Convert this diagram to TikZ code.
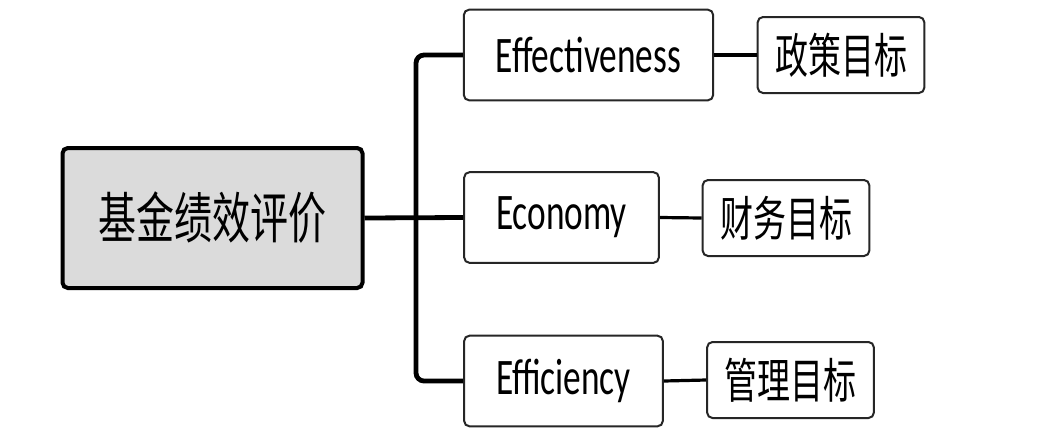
\documentclass[tikz,border=0pt]{standalone}
\usepackage{fontspec}
\setmainfont{Carlito}
\newfontfamily\cjk{Noto Sans CJK SC}
\usepackage{graphicx}
\newcommand{\vst}[1]{\scalebox{1}[1.45]{#1}}
\begin{document}
\begin{tikzpicture}[x=0.75pt,y=-0.75pt,
  mainbox/.style={draw=black,line width=3pt,fill=black!14,rounded corners=4pt,
    minimum width=225pt,minimum height=105pt,inner sep=0pt,
    font=\fontsize{28.5}{30}\cjk},
  midbox/.style={draw=black!85,line width=1.5pt,fill=white,rounded corners=4pt,
    minimum height=68pt,inner sep=0pt,font=\fontsize{26.5}{28}\selectfont},
  goalbox/.style={draw=black!85,line width=1.5pt,fill=white,rounded corners=4pt,
    minimum width=125pt,minimum height=57pt,inner sep=0pt,
    font=\fontsize{24.75}{26}\cjk},
  trunk/.style={line width=3.6pt,rounded corners=6pt},
  twig/.style={line width=2.4pt}]
\fill[white] (0,0) rectangle (1050,440);
\useasboundingbox (0,0) rectangle (1050,440);

\node[mainbox] (main) at (212.5,218) {\vst{基金绩效评价}};

\node[midbox,minimum width=187pt] (eff) at (588.5,55) {\vst{Effectiveness}};
\node[midbox,minimum width=146pt] (eco) at (561.5,217.5) {\vst{Economy}};
\node[midbox,minimum width=149pt] (effi) at (563.5,381) {\vst{Efficiency}};

\node[goalbox] (g1) at (841,55) {\vst{政策目标}};
\node[goalbox] (g2) at (786,218) {\vst{财务目标}};
\node[goalbox] (g3) at (790.5,380) {\vst{管理目标}};

\coordinate (j) at (416,218);
\draw[trunk] (main.east) -- (eco.west);
\draw[trunk] (eff.west) -| (j) |- (effi.west);

\draw[twig] (eff.east) -- (g1.west);
\draw[twig] (eco.east) -- (g2.west);
\draw[twig] (effi.east) -- (g3.west);
\end{tikzpicture}
\end{document}
